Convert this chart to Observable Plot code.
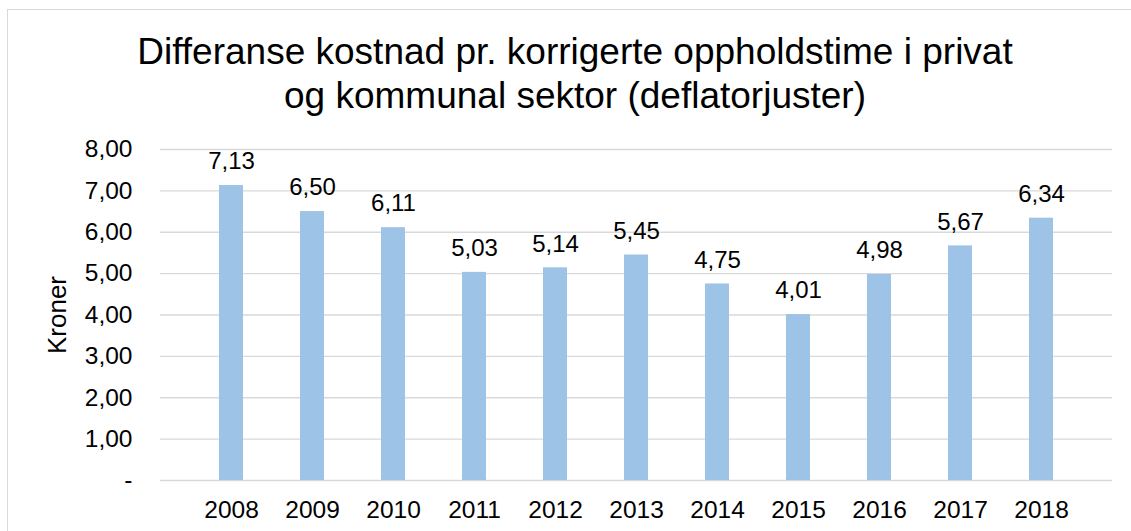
<!DOCTYPE html>
<html>
<head>
<meta charset="utf-8">
<script src="https://cdn.jsdelivr.net/npm/d3@7"></script>
<script src="https://cdn.jsdelivr.net/npm/@observablehq/plot@0.6"></script>
<style>
  html, body { margin: 0; padding: 0; background: #fff; overflow: hidden; }
  body { width: 1131px; height: 531px; position: relative; font-family: "Liberation Sans", Arial, sans-serif; }
  #frame { position: absolute; left: 7px; top: 9px; width: 1200px; height: 600px; border: 1px solid #d9d9d9; box-sizing: border-box; }
  #title { position: absolute; left: 0; top: 30px; width: 1150px; text-align: center; font-size: 37px; line-height: 44px; color: #000; }
  #chart { position: absolute; left: 0; top: 0; }
</style>
</head>
<body>
<div id="frame"></div>
<div id="title">Differanse kostnad pr. korrigerte oppholdstime i privat<br>og kommunal sektor (deflatorjuster)</div>
<div id="chart"></div>
<script>
const years = ["2008","2009","2010","2011","2012","2013","2014","2015","2016","2017","2018"];
const values = [7.13, 6.50, 6.11, 5.03, 5.14, 5.45, 4.75, 4.01, 4.98, 5.67, 6.34];
const yTicks = [0, 1, 2, 3, 4, 5, 6, 7, 8];
const yLabel = "Kroner";

const data = years.map((y, i) => ({year: y, value: values[i]}));
const fmt = v => v === 0 ? "-" : v.toFixed(2).replace(".", ",");

const chart = Plot.plot({
  width: 1131,
  height: 531,
  marginLeft: 160,
  marginRight: 19,
  marginTop: 149,
  marginBottom: 51,
  style: {fontFamily: "'Liberation Sans', Arial, sans-serif", fontSize: "24.5px", color: "#000", background: "transparent"},
  x: {domain: years, padding: 0.7, label: null},
  y: {domain: [0, 8], label: null},
  marks: [
    Plot.ruleY(yTicks, {stroke: "#d9d9d9", strokeWidth: 1.3}),
    Plot.barY(data, {x: "year", y: "value", fill: "#9dc3e6"}),
    Plot.text(data, {x: "year", y: "value", text: d => fmt(d.value), dy: -24, fill: "#000", fontSize: 24}),
    Plot.axisY({ticks: yTicks, tickFormat: fmt, tickSize: 0, tickPadding: 28, label: null, fontSize: 24.5}),
    Plot.axisX({tickSize: 0, tickPadding: 20, label: null, fontSize: 24.5}),
    Plot.text([yLabel], {frameAnchor: "left", textAnchor: "middle", rotate: -90, dx: -103, fill: "#000", fontSize: 26})
  ]
});
document.getElementById("chart").appendChild(chart);
</script>
</body>
</html>
